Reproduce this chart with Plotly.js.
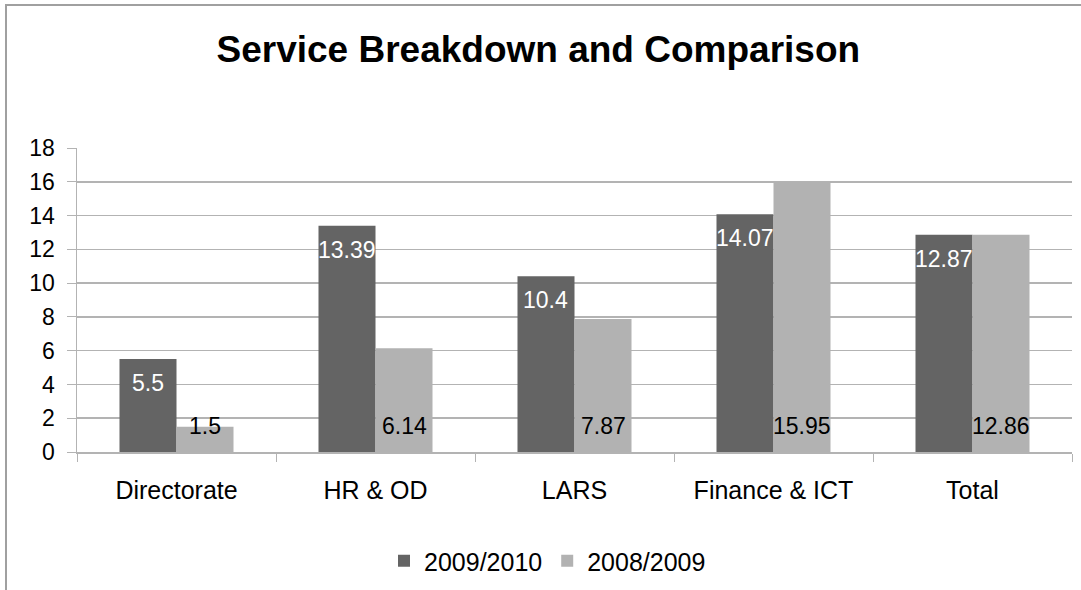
<!DOCTYPE html>
<html>
<head>
<meta charset="utf-8">
<script src="https://cdn.plot.ly/plotly-3.0.1.min.js"></script>
<style>
  html, body { margin: 0; padding: 0; background: #fff; }
  #wrap { position: relative; width: 1081px; height: 590px; overflow: hidden; }
  #chart { position: absolute; left: 0; top: 0; width: 1081px; height: 590px; }
  #frame { position: absolute; left: 5px; top: 4px; width: 1100px; height: 600px;
           border-left: 2px solid #a0a0a0; border-top: 2px solid #a0a0a0; pointer-events: none; }
</style>
</head>
<body>
<div id="wrap">
  <div id="chart"></div>
  <div id="frame"></div>
</div>
<script>
const categories = ["Directorate", "HR & OD", "LARS", "Finance & ICT", "Total"];
const series2009_2010 = [5.5, 13.39, 10.4, 14.07, 12.87];
const series2008_2009 = [1.5, 6.14, 7.87, 15.95, 12.86];
const seriesNames = ["2009/2010", "2008/2009"];
const yTicks = [0, 2, 4, 6, 8, 10, 12, 14, 16, 18];

const FONT = "Liberation Sans, Arial, sans-serif";
const darkColor = "#646464";
const lightColor = "#b2b2b2";
const gridColor = "#b3b3b3";

const margin = { l: 77, r: 9, t: 148, b: 138 };
const bargap = 0.427;
const plotW = 1081 - margin.l - margin.r;
const catW = plotW / categories.length;
const barW = catW * (1 - bargap) / 2;

const traces = [
  { type: "bar", name: seriesNames[0], x: categories, y: series2009_2010,
    marker: { color: darkColor }, hoverinfo: "x+y" },
  { type: "bar", name: seriesNames[1], x: categories, y: series2008_2009,
    marker: { color: lightColor }, hoverinfo: "x+y" }
];

const annotations = [];
categories.forEach((c, i) => {
  annotations.push({
    x: c, y: series2009_2010[i], xref: "x", yref: "y",
    text: String(series2009_2010[i]), showarrow: false,
    xshift: -barW / 2, yshift: -24, yanchor: "middle", xanchor: "center",
    font: { family: FONT, size: 23, color: "#ffffff" }
  });
  annotations.push({
    x: c, y: 0, xref: "x", yref: "y",
    text: String(series2008_2009[i]), showarrow: false,
    xshift: barW / 2, yshift: 26, yanchor: "middle", xanchor: "center",
    font: { family: FONT, size: 23, color: "#000000" }
  });
});

const layout = {
  width: 1081, height: 590,
  margin: margin,
  paper_bgcolor: "#ffffff", plot_bgcolor: "#ffffff",
  font: { family: FONT, color: "#000000" },
  title: {
    text: "<b>Service Breakdown and Comparison</b>",
    font: { family: FONT, size: 37, color: "#000000" },
    x: 0.498, xref: "container", xanchor: "center",
    y: 1 - 49 / 590, yref: "container", yanchor: "middle"
  },
  barmode: "group", bargap: bargap, bargroupgap: 0,
  xaxis: {
    type: "category",
    showline: true, linecolor: gridColor, linewidth: 1.5,
    ticks: "outside", tickson: "boundaries", ticklen: 8, tickcolor: gridColor, tickwidth: 1,
    tickfont: { family: FONT, size: 25, color: "#000000" },
    ticklabelstandoff: 15,
    showgrid: false, zeroline: false, fixedrange: true
  },
  yaxis: {
    range: [0, 18], tickvals: yTicks, ticktext: yTicks.map(String),
    showline: true, linecolor: gridColor, linewidth: 1.5,
    ticks: "outside", ticklen: 9, tickcolor: gridColor, tickwidth: 1,
    tickfont: { family: FONT, size: 23, color: "#000000" },
    ticklabelstandoff: 7,
    showgrid: true, gridcolor: gridColor, gridwidth: 1.5,
    zeroline: false, fixedrange: true
  },
  showlegend: true,
  legend: {
    orientation: "h", xref: "container", yref: "container",
    x: 0.5065, xanchor: "center", y: 1 - 561 / 590, yanchor: "middle",
    font: { family: FONT, size: 25, color: "#000000" },
    itemwidth: 30, traceorder: "normal", itemclick: false, itemdoubleclick: false
  },
  annotations: annotations
};

Plotly.newPlot("chart", traces, layout, { displayModeBar: false, staticPlot: true });
</script>
</body>
</html>
